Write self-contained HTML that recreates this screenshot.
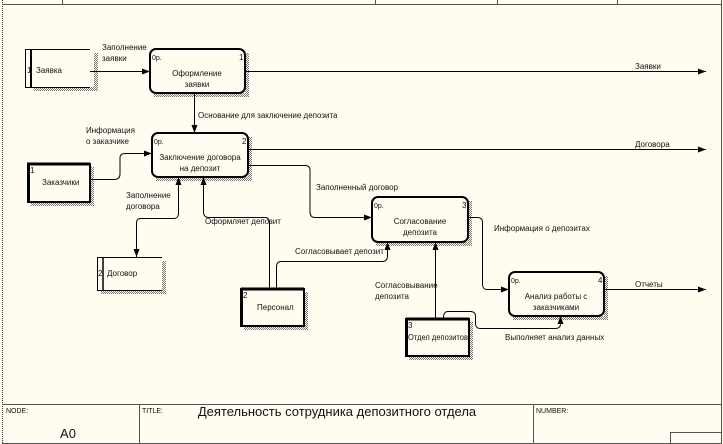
<!DOCTYPE html>
<html><head><meta charset="utf-8"><style>
html,body{margin:0;padding:0;background:#fff}
svg{display:block}
text{font-family:"Liberation Sans","DejaVu Sans",sans-serif;font-size:8px;fill:#111}
</style></head><body>
<svg width="723" height="444" viewBox="0 0 723 444" xmlns="http://www.w3.org/2000/svg">
<defs>
<pattern id="sh" width="2" height="2" patternUnits="userSpaceOnUse"><rect width="1" height="1" fill="#777"/><rect x="1" y="1" width="1" height="1" fill="#777"/></pattern>
<marker id="a" markerWidth="8" markerHeight="6" refX="8" refY="3" orient="auto" markerUnits="userSpaceOnUse"><path d="M0,0 L8,3 L0,6 z" fill="#000"/></marker>
</defs>
<rect x="0" y="0" width="723" height="444" fill="#fffdf0"/>
<line x1="2.5" y1="0" x2="2.5" y2="444" stroke="#333" stroke-dasharray="1,1"/>
<line x1="721.5" y1="0" x2="721.5" y2="444" stroke="#555"/>
<line x1="2" y1="4.5" x2="722" y2="4.5" stroke="#555"/>
<g stroke="#555"><line x1="62.5" y1="0" x2="62.5" y2="4"/><line x1="375.5" y1="0" x2="375.5" y2="4"/><line x1="497.5" y1="0" x2="497.5" y2="4"/><line x1="617.5" y1="0" x2="617.5" y2="4"/></g>
<g stroke="#555" fill="none">
<line x1="2" y1="404.5" x2="722" y2="404.5"/>
<line x1="2" y1="443.5" x2="722" y2="443.5"/>
<line x1="139.5" y1="404" x2="139.5" y2="444"/>
<line x1="533.5" y1="404" x2="533.5" y2="444"/>
<rect x="670.5" y="432.5" width="51" height="11"/>
</g>
<text x="6" y="413" style="font-size:7px">NODE:</text>
<text x="142" y="413" style="font-size:7px">TITLE:</text>
<text x="536" y="413" style="font-size:7px">NUMBER:</text>
<text x="337" y="416" text-anchor="middle" style="font-size:13px">Деятельность сотрудника депозитного отдела</text>
<text x="68" y="438" text-anchor="middle" style="font-size:13px">A0</text>

<g fill="url(#sh)">
<rect x="94" y="53" width="4" height="38"/><rect x="34" y="87" width="64" height="4"/>
<rect x="245" y="53" width="4" height="44"/><rect x="154" y="93" width="95" height="4"/>
<rect x="248" y="137" width="4" height="44"/><rect x="156" y="177" width="96" height="4"/>
<rect x="90" y="167" width="4" height="39"/><rect x="31" y="202" width="63" height="4"/>
<rect x="468" y="201" width="4" height="45"/><rect x="376" y="242" width="96" height="4"/>
<rect x="604" y="276" width="4" height="44"/><rect x="513" y="316" width="95" height="4"/>
<rect x="162" y="261" width="4" height="33"/><rect x="101" y="290" width="65" height="4"/>
<rect x="304" y="292" width="4" height="38"/><rect x="244" y="326" width="64" height="4"/>
<rect x="469" y="322" width="4" height="38"/><rect x="409" y="356" width="64" height="4"/>
</g>

<g stroke="#000" fill="#fffdf0">
<path d="M90,49.5 H25.5 V87.5 H90" stroke-width="1"/>
<line x1="31" y1="49" x2="31" y2="88" stroke-width="2"/>
<path d="M162,257.5 H97.5 V290.5 H162"/>
<line x1="103" y1="257" x2="103" y2="291" stroke-width="1.5"/>
</g>
<text x="27" y="73">1</text><text x="36" y="73">Заявка</text>
<text x="98" y="276">2</text><text x="107" y="276">Договор</text>

<g stroke="#000" fill="#fffdf0">
<rect x="28" y="164" width="62" height="38" stroke-width="2"/>
<path d="M28.5,164 V202 M27,164 H90" stroke-width="3"/>
<rect x="241" y="289" width="63" height="37" stroke-width="2"/>
<path d="M241,289 H304 M241.5,289 V326" stroke-width="3"/>
<rect x="406" y="319" width="63" height="37" stroke-width="2"/>
<path d="M406,319 H469 M406.5,319 V356" stroke-width="3"/>
</g>
<text x="30" y="173">1</text><text x="42" y="185">Заказчики</text>
<text x="243" y="298">2</text><text x="257" y="310">Персонал</text>
<text x="408" y="328">3</text><text x="408" y="340" textLength="60" lengthAdjust="spacingAndGlyphs">Отдел депозитов</text>

<g stroke="#000" stroke-width="2" fill="#fffdf0">
<rect x="150" y="49" width="95" height="44" rx="6"/>
<rect x="152" y="133" width="96" height="44" rx="6"/>
<rect x="372" y="197" width="96" height="45" rx="6"/>
<rect x="509" y="272" width="95" height="44" rx="6"/>
</g>
<text x="152" y="60" style="font-size:7px">0р.</text><text x="239" y="60">1</text>
<text x="197" y="76" text-anchor="middle">Оформление</text><text x="197" y="87" text-anchor="middle">заявки</text>
<text x="154" y="144" style="font-size:7px">0р.</text><text x="242" y="144">2</text>
<text x="200" y="160" text-anchor="middle">Заключение договора</text><text x="200" y="171" text-anchor="middle">на депозит</text>
<text x="374" y="208" style="font-size:7px">0р.</text><text x="462" y="208">3</text>
<text x="420" y="224" text-anchor="middle">Согласование</text><text x="420" y="235" text-anchor="middle">депозита</text>
<text x="511" y="283" style="font-size:7px">0р.</text><text x="598" y="283">4</text>
<text x="556" y="299" text-anchor="middle">Анализ работы с</text><text x="556" y="310" text-anchor="middle">заказчиками</text>

<g stroke="#000" fill="none" stroke-width="1">
<path d="M90,71.5 H150" marker-end="url(#a)"/>
<path d="M245,71.5 H706" marker-end="url(#a)"/>
<path d="M194.5,93 V133" marker-end="url(#a)"/>
<path d="M90,179.5 H115 Q120,179 120,174 V158 Q120,153.5 125,153.5 H152" marker-end="url(#a)"/>
<path d="M248,149.5 H706" marker-end="url(#a)"/>
<path d="M248,165.5 H306 Q310,166 310,170 V212 Q310,217.5 315,217.5 H372" marker-end="url(#a)"/>
<path d="M178.5,215 V177" marker-end="url(#a)"/>
<path d="M178.5,214 Q178,218.5 174,218.5 H140 Q136.5,219 136.5,223 V257" marker-end="url(#a)"/>
<path d="M269.5,289 V222 Q269,217.5 265,217.5 H208 Q203.5,217 203.5,212 V177" marker-end="url(#a)"/>
<path d="M276.5,289 V266 Q277,261.5 281,261.5 H383 Q387.5,261 387.5,256 V242" marker-end="url(#a)"/>
<path d="M435.5,319 V242" marker-end="url(#a)"/>
<path d="M468,217.5 H478 Q482.5,218 482.5,222 V285 Q483,289.5 487,289.5 H509" marker-end="url(#a)"/>
<path d="M604,289.5 H706" marker-end="url(#a)"/>
<path d="M443.5,319 Q443,311.5 448,311.5 H471 Q475.5,312 475.5,316 V324 Q476,328.5 480,328.5 H556 Q560.5,328 560.5,324 V316" marker-end="url(#a)"/>
</g>

<text x="102" y="50">Заполнение</text><text x="102" y="61">заявки</text>
<text x="635" y="69">Заявки</text>
<text x="198" y="118">Основание для заключение депозита</text>
<text x="86" y="133">Информация</text><text x="86" y="144">о заказчике</text>
<text x="635" y="147">Договора</text>
<text x="316" y="190">Заполненный договор</text>
<text x="126" y="198">Заполнение</text><text x="126" y="209">договора</text>
<text x="205" y="224">Оформляет депозит</text>
<text x="295" y="254">Согласовывает депозит</text>
<text x="494" y="231">Информация о депозитах</text>
<text x="375" y="288">Согласовывание</text><text x="375" y="299">депозита</text>
<text x="635" y="287">Отчеты</text>
<text x="505" y="340">Выполняет анализ данных</text>
</svg>
</body></html>
